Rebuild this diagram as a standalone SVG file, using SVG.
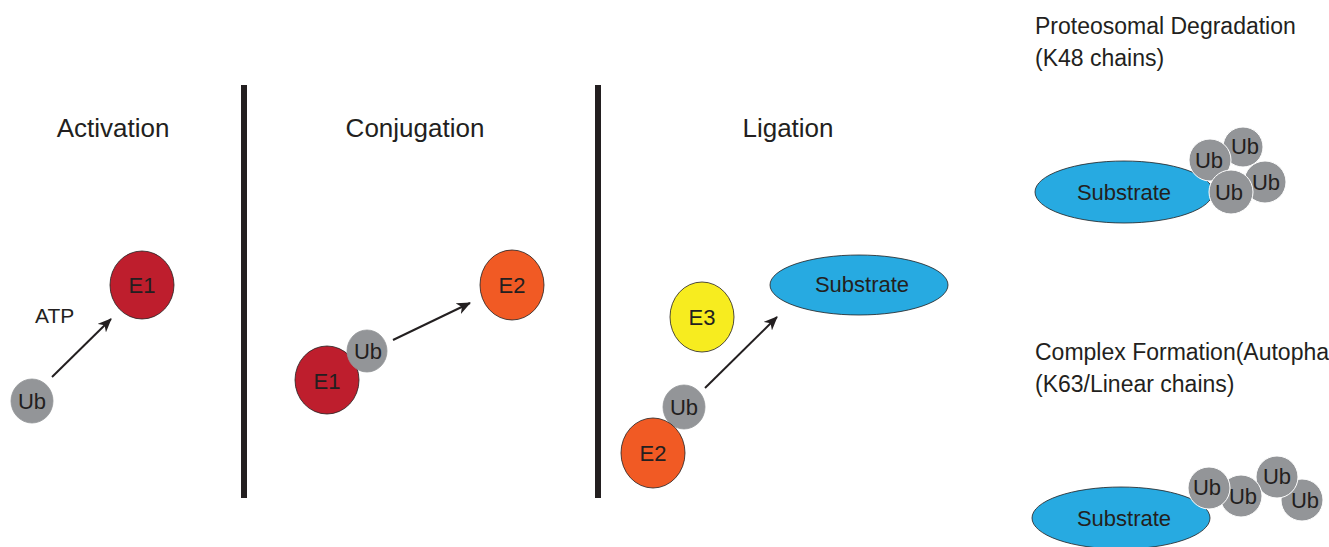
<svg xmlns="http://www.w3.org/2000/svg" width="1329" height="547" viewBox="0 0 1329 547">
<defs>
<style>
text{font-family:"Liberation Sans",Arial,sans-serif;fill:#231f20}
.title{font-size:26px;text-anchor:middle}
.hdr{font-size:23px}
.lbl{font-size:22px;text-anchor:middle}
.ub{font-size:22px;text-anchor:middle}
.e1{fill:#be1e2d;stroke:#231f20;stroke-width:0.8}
.e2{fill:#f15a24;stroke:#231f20;stroke-width:0.8}
.e3{fill:#f7ec1f;stroke:#231f20;stroke-width:0.8}
.ubc{fill:#939598;stroke:#939598;stroke-width:0.8}
.ubw{fill:#939598;stroke:#ffffff;stroke-width:1}
.sub{fill:#27aae1;stroke:#231f20;stroke-width:0.8}
.bar{fill:#231f20}
.arr{stroke:#231f20;stroke-width:2;fill:none;marker-end:url(#ah)}
</style>
<marker id="ah" viewBox="0 0 14 12" refX="13" refY="6" markerWidth="14" markerHeight="12" markerUnits="userSpaceOnUse" orient="auto">
<path d="M0,0 L14,6 L0,12 L4,6 Z" fill="#231f20"/>
</marker>
</defs>
<rect width="1329" height="547" fill="#ffffff"/>

<g id="dividers">
<rect class="bar" x="241" y="85" width="6" height="413"/>
<rect class="bar" x="595" y="85" width="6" height="413"/>
</g>

<g id="titles">
<text class="title" x="113" y="137">Activation</text>
<text class="title" x="415" y="137">Conjugation</text>
<text class="title" x="788" y="137">Ligation</text>
</g>

<g id="connectors">
<line class="arr" x1="52" y1="377" x2="111" y2="319"/>
<line class="arr" x1="393" y1="340" x2="470" y2="303"/>
<line class="arr" x1="705" y1="388" x2="777" y2="317"/>
</g>

<g id="activation-e1">
<ellipse class="e1" cx="142" cy="285" rx="32" ry="34"/>
<text class="lbl" x="142" y="293">E1</text>
</g>
<g id="activation-ub">
<ellipse class="ubc" cx="32" cy="401" rx="21" ry="22"/>
<text class="ub" x="32" y="409">Ub</text>
</g>
<g id="atp-label">
<text x="35" y="323" style="font-size:21px">ATP</text>
</g>

<g id="conjugation-e1">
<ellipse class="e1" cx="327" cy="380" rx="32" ry="34"/>
<text class="lbl" x="327" y="389">E1</text>
</g>
<g id="conjugation-ub">
<ellipse class="ubc" cx="367" cy="351" rx="20" ry="21"/>
<text class="ub" x="368" y="359">Ub</text>
</g>
<g id="conjugation-e2">
<ellipse class="e2" cx="512" cy="285" rx="32" ry="35"/>
<text class="lbl" x="512" y="293">E2</text>
</g>

<g id="ligation-e3">
<ellipse class="e3" cx="702" cy="317" rx="32" ry="35"/>
<text class="lbl" x="702" y="325">E3</text>
</g>
<g id="ligation-substrate">
<ellipse class="sub" cx="859" cy="285" rx="89" ry="30"/>
<text class="lbl" x="862" y="292">Substrate</text>
</g>
<g id="ligation-ub">
<ellipse class="ubc" cx="684" cy="407" rx="21" ry="22"/>
<text class="ub" x="684" y="415">Ub</text>
</g>
<g id="ligation-e2">
<ellipse class="e2" cx="653" cy="453" rx="32" ry="35"/>
<text class="lbl" x="653" y="461">E2</text>
</g>

<g id="k48-label">
<text class="hdr" x="1035" y="34">Proteosomal Degradation</text>
<text class="hdr" x="1035" y="66">(K48 chains)</text>
</g>
<g id="k48-substrate">
<ellipse class="sub" cx="1124" cy="192" rx="89" ry="31"/>
<text class="lbl" x="1124" y="200">Substrate</text>
</g>
<g id="k48-chain">
<circle class="ubw" cx="1265" cy="182" r="21"/>
<text class="ub" x="1266" y="190">Ub</text>
<circle class="ubw" cx="1243" cy="147" r="20"/>
<text class="ub" x="1245" y="154">Ub</text>
<circle class="ubw" cx="1210" cy="160" r="21"/>
<text class="ub" x="1209" y="168">Ub</text>
<circle class="ubw" cx="1231" cy="192" r="22"/>
<text class="ub" x="1229" y="200">Ub</text>
</g>

<g id="k63-label">
<text class="hdr" x="1035" y="360">Complex Formation(Autopha</text>
<text class="hdr" x="1035" y="392">(K63/Linear chains)</text>
</g>
<g id="k63-substrate">
<ellipse class="sub" cx="1121" cy="518" rx="89" ry="31"/>
<text class="lbl" x="1124" y="526">Substrate</text>
</g>
<g id="k63-chain">
<circle class="ubw" cx="1302" cy="500" r="21"/>
<text class="ub" x="1305" y="508">Ub</text>
<circle class="ubw" cx="1277" cy="477" r="21"/>
<text class="ub" x="1277" y="484">Ub</text>
<circle class="ubw" cx="1241" cy="496" r="21"/>
<text class="ub" x="1243" y="504">Ub</text>
<circle class="ubw" cx="1209" cy="488" r="21"/>
<text class="ub" x="1207" y="495">Ub</text>
</g>
</svg>
